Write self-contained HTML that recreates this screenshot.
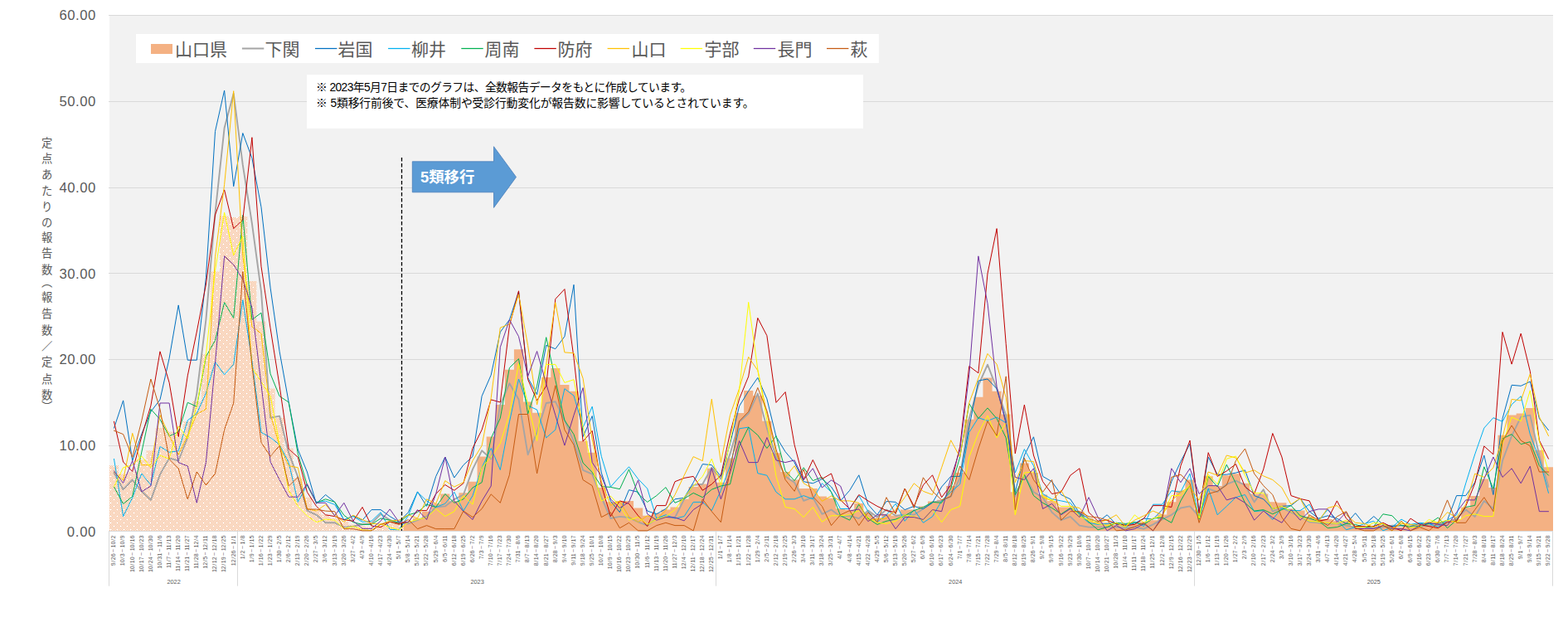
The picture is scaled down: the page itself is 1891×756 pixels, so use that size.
<!DOCTYPE html>
<html lang="ja"><head><meta charset="utf-8"><title>chart</title>
<style>html,body{margin:0;padding:0;background:#fff;}body{width:1891px;height:756px;overflow:hidden;font-family:"Liberation Sans",sans-serif;}svg{display:block;}text{font-family:"Liberation Sans",sans-serif;}</style></head><body>
<svg width="1891" height="756" viewBox="0 0 1891 756" role="img" aria-label="定点あたりの報告数（報告数／定点数） 山口県 週別推移">
<defs><pattern id="dd" x="0" y="0" width="8" height="8" patternUnits="userSpaceOnUse" shape-rendering="crispEdges">
<rect width="8" height="8" fill="#fff"/>
<path fill="#F4B183" d="M1 0h1v1h-1zM3 0h1v1h-1zM5 0h1v1h-1zM7 0h1v1h-1zM0 1h1v1h-1zM2 1h1v1h-1zM4 1h1v1h-1zM6 1h1v1h-1zM3 2h1v1h-1zM5 2h1v1h-1zM7 2h1v1h-1zM0 3h1v1h-1zM2 3h1v1h-1zM4 3h1v1h-1zM6 3h1v1h-1zM1 4h1v1h-1zM3 4h1v1h-1zM5 4h1v1h-1zM7 4h1v1h-1zM0 5h1v1h-1zM2 5h1v1h-1zM4 5h1v1h-1zM6 5h1v1h-1zM1 6h1v1h-1zM3 6h1v1h-1zM7 6h1v1h-1zM0 7h1v1h-1zM2 7h1v1h-1zM4 7h1v1h-1zM6 7h1v1h-1z"/>
</pattern></defs>
<rect width="1891" height="756" fill="#fff"/>
<rect x="132" y="18" width="1741" height="622" fill="#F2F2F2"/>
<path d="M131 18.5H1873M131 122.5H1873M131 226.5H1873M131 329.5H1873M131 433.5H1873M131 537.5H1873" stroke="#D9D9D9" stroke-width="1" fill="none" shape-rendering="crispEdges"/>
<path d="M132.00 640.00L132.00 561.19H143.09L143.09 571.46H154.18L154.18 568.76H165.27L165.27 554.46H176.36L176.36 543.26H187.45L187.45 516.10H198.54L198.54 520.45H209.62L209.62 521.28H220.71L220.71 508.32H231.80L231.80 483.65H242.89L242.89 427.26H253.98L253.98 327.43H265.07L265.07 260.46H276.16L276.16 262.12H287.25L287.25 261.08H298.34L298.34 339.04H309.43L309.43 387.55H320.52L320.52 468.41H331.61L331.61 503.66H342.69L342.69 540.46H353.78L353.78 576.43H364.87L364.87 599.66H375.96L375.96 613.55H387.05L387.05 620.80H398.14L398.14 624.95H409.23L409.23 629.10H420.32L420.32 632.41H431.41L431.41 634.59H442.50L442.50 635.63H453.59L453.59 633.97H464.68L464.68 631.38H475.76L475.76 630.34H486.85V640Z" fill="url(#dd)"/>
<path d="M486.85 640.00L486.85 629.30H497.94L497.94 624.95H509.03L509.03 616.66H520.12L520.12 607.33H531.21L531.21 595.51H542.30L542.30 604.22H553.39L553.39 594.37H564.48L564.48 580.68H575.57L575.57 550.41H586.66L586.66 526.47H597.75L597.75 488.11H608.83L608.83 445.81H619.92L619.92 421.14H631.01L631.01 484.59H642.10L642.10 497.85H653.19L653.19 454.94H664.28L664.28 443.95H675.37L675.37 464.06H686.46L686.46 471.83H697.55L697.55 531.65H708.64L708.64 545.85H719.73L719.73 588.04H730.82L730.82 605.25H741.90L741.90 603.91H752.99L752.99 603.91H764.08L764.08 612.51H775.17L775.17 621.84H786.26L786.26 618.73H797.35L797.35 614.58H808.44L808.44 611.47H819.53L819.53 601.83H830.62L830.62 587.01H841.71L841.71 583.48H852.80L852.80 564.82H863.89L863.89 581.72H874.97L874.97 552.38H886.06L886.06 498.06H897.15L897.15 471.00H908.24L908.24 477.23H919.33L919.33 507.81H930.42L930.42 546.16H941.51L941.51 568.97H952.60L952.60 578.51H963.69L963.69 589.08H974.78L974.78 589.08H985.87L985.87 598.62H996.96L996.96 600.80H1008.04L1008.04 613.13H1019.13L1019.13 614.79H1030.22L1030.22 607.12H1041.31L1041.31 618.42H1052.40L1052.40 624.43H1063.49L1063.49 619.77H1074.58L1074.58 621.84H1085.67L1085.67 614.58H1096.76L1096.76 614.58H1107.85L1107.85 610.44H1118.94L1118.94 604.53H1130.03L1130.03 602.87H1141.11L1141.11 585.97H1152.20L1152.20 570.01H1163.29L1163.29 505.73H1174.38L1174.38 478.78H1185.47L1185.47 455.56H1196.56L1196.56 471.83H1207.65L1207.65 499.51H1218.74L1218.74 593.33H1229.83L1229.83 558.60H1240.92L1240.92 570.01H1252.01L1252.01 596.55H1263.10L1263.10 603.91H1274.18L1274.18 611.47H1285.27L1285.27 611.47H1296.36L1296.36 616.66H1307.45L1307.45 625.05H1318.54L1318.54 629.30H1329.63L1329.63 630.34H1340.72L1340.72 632.41H1351.81L1351.81 632.41H1362.90L1362.90 631.38H1373.99L1373.99 629.30H1385.08L1385.08 627.23H1396.17L1396.17 620.39H1407.25L1407.25 605.36H1418.34L1418.34 591.67H1429.43L1429.43 578.51H1440.52L1440.52 614.58H1451.61L1451.61 574.36H1462.70L1462.70 585.97H1473.79L1473.79 573.22H1484.88L1484.88 571.15H1495.97L1495.97 582.76H1507.06L1507.06 595.51H1518.15L1518.15 595.51H1529.24L1529.24 605.36H1540.32L1540.32 606.29H1551.41L1551.41 613.55H1562.50L1562.50 615.62H1573.59L1573.59 622.88H1584.68L1584.68 626.09H1595.77L1595.77 626.09H1606.86L1606.86 628.27H1617.95L1617.95 628.27H1629.04L1629.04 634.59H1640.13L1640.13 634.59H1651.22L1651.22 635.63H1662.31L1662.31 633.55H1673.39L1673.39 634.59H1684.48L1684.48 635.63H1695.57L1695.57 633.55H1706.66L1706.66 633.24H1717.75L1717.75 631.38H1728.84L1728.84 629.72H1739.93L1739.93 628.27H1751.02L1751.02 626.09H1762.11L1762.11 611.78H1773.20L1773.20 598.00H1784.29L1784.29 577.47H1795.38L1795.38 588.04H1806.46L1806.46 524.70H1817.55L1817.55 500.55H1828.64L1828.64 498.48H1839.73L1839.73 491.95H1850.82L1850.82 542.64H1861.91L1861.91 563.16H1873.00V640Z" fill="#F4B183"/>
<path d="M131 640.5H1873" stroke="#D9D9D9" stroke-width="1" fill="none"/>
<path d="M131.5 640V706.6M286.5 640V706.6M863.5 640V706.6M1440.5 640V706.6M1872.5 640V706.6" stroke="#D9D9D9" stroke-width="1" fill="none"/>
<polyline points="137.5,570.0 148.6,590.2 159.7,578.5 170.8,592.3 181.9,602.9 193.0,572.1 204.1,552.4 215.2,555.5 226.3,527.5 237.3,474.6 248.4,385.5 259.5,256.9 270.6,154.3 281.7,112.8 292.8,198.9 303.9,269.4 315.0,351.3 326.1,503.7 337.1,501.6 348.2,546.2 359.3,575.2 370.4,615.6 381.5,620.8 392.6,630.3 403.7,630.3 414.8,635.6 425.9,634.6 437.0,632.2 448.0,631.2 459.1,619.8 470.2,627.0 481.3,631.2 492.4,631.4 503.5,627.2 514.6,622.6 525.7,611.5 536.8,610.4 547.8,602.1 558.9,596.5 570.0,565.9 581.1,543.3 592.2,553.4 603.3,488.1 614.4,462.2 625.5,481.4 636.6,548.2 647.6,521.3 658.7,486.0 669.8,484.2 680.9,506.8 692.0,532.2 703.1,566.9 714.2,571.6 725.3,599.7 736.4,625.0 747.4,622.9 758.5,624.0 769.6,629.3 780.7,633.6 791.8,625.1 802.9,622.9 814.0,624.0 825.1,601.8 836.2,584.9 847.3,583.8 858.3,563.8 869.4,577.5 880.5,547.2 891.6,508.8 902.7,498.5 913.8,474.6 924.9,516.1 936.0,551.0 947.1,574.4 958.1,581.7 969.2,603.9 980.3,599.7 991.4,619.8 1002.5,614.6 1013.6,622.9 1024.7,621.8 1035.8,625.1 1046.9,615.6 1057.9,623.4 1069.0,614.6 1080.1,621.8 1091.2,620.8 1102.3,620.8 1113.4,613.5 1124.5,605.4 1135.6,603.9 1146.7,598.6 1157.7,576.4 1168.8,504.7 1179.9,464.5 1191.0,439.7 1202.1,468.7 1213.2,500.6 1224.3,598.6 1235.4,573.2 1246.5,593.3 1257.6,599.7 1268.6,617.7 1279.7,627.2 1290.8,622.9 1301.9,633.6 1313.0,635.6 1324.1,635.6 1335.2,635.6 1346.3,635.6 1357.4,636.7 1368.4,635.6 1379.5,637.7 1390.6,632.4 1401.7,626.1 1412.8,620.8 1423.9,612.5 1435.0,610.4 1446.1,622.9 1457.2,589.1 1468.2,593.3 1479.3,583.8 1490.4,579.6 1501.5,584.9 1512.6,605.4 1523.7,590.2 1534.8,616.7 1545.9,612.5 1557.0,617.7 1568.0,622.9 1579.1,629.3 1590.2,630.3 1601.3,631.4 1612.4,631.4 1623.5,633.6 1634.6,635.6 1645.7,635.6 1656.8,636.7 1667.9,635.6 1678.9,633.6 1690.0,633.6 1701.1,634.6 1712.2,634.6 1723.3,633.6 1734.4,633.6 1745.5,630.3 1756.6,625.1 1767.7,614.6 1778.7,622.9 1789.8,603.9 1800.9,613.5 1812.0,555.5 1823.1,525.7 1834.2,502.6 1845.3,500.6 1856.4,549.3 1867.5,587.0" fill="none" stroke="#A5A5A5" stroke-width="1.90" stroke-linejoin="round" stroke-linecap="round"/>
<polyline points="137.5,516.1 148.6,482.9 159.7,555.5 170.8,523.4 181.9,496.4 193.0,481.9 204.1,432.1 215.2,367.9 226.3,434.2 237.3,434.2 248.4,334.7 259.5,158.4 270.6,109.0 281.7,224.8 292.8,160.5 303.9,190.6 315.0,249.7 326.1,347.1 337.1,423.8 348.2,485.0 359.3,542.0 370.4,569.0 381.5,607.3 392.6,596.5 403.7,605.3 414.8,627.0 425.9,621.8 437.0,627.2 448.0,614.6 459.1,614.6 470.2,622.6 481.3,629.3 492.4,617.7 503.5,592.9 514.6,610.4 525.7,574.4 536.8,551.0 547.8,576.0 558.9,560.7 570.0,550.4 581.1,477.7 592.2,452.2 603.3,400.4 614.4,385.5 625.5,351.8 636.6,455.4 647.6,475.7 658.7,416.3 669.8,420.7 680.9,405.7 692.0,343.3 703.1,526.5 714.2,501.6 725.3,570.0 736.4,604.2 747.4,617.7 758.5,590.7 769.6,593.3 780.7,616.1 791.8,619.8 802.9,613.5 814.0,601.8 825.1,600.3 836.2,581.7 847.3,559.6 858.3,560.7 869.4,574.4 880.5,534.8 891.6,489.7 902.7,471.5 913.8,455.4 924.9,480.9 936.0,526.5 947.1,544.7 958.1,557.6 969.2,580.7 980.3,582.8 991.4,577.5 1002.5,587.0 1013.6,603.9 1024.7,591.3 1035.8,572.8 1046.9,608.2 1057.9,620.8 1069.0,604.5 1080.1,605.4 1091.2,614.6 1102.3,610.4 1113.4,613.5 1124.5,606.3 1135.6,587.0 1146.7,574.4 1157.7,574.4 1168.8,515.1 1179.9,459.1 1191.0,457.0 1202.1,468.7 1213.2,507.8 1224.3,593.3 1235.4,549.0 1246.5,526.8 1257.6,574.4 1268.6,580.7 1279.7,596.5 1290.8,601.8 1301.9,618.7 1313.0,625.1 1324.1,629.3 1335.2,620.8 1346.3,632.4 1357.4,632.4 1368.4,630.9 1379.5,625.1 1390.6,626.1 1401.7,614.6 1412.8,580.7 1423.9,556.5 1435.0,535.2 1446.1,616.7 1457.2,551.0 1468.2,572.2 1479.3,572.2 1490.4,570.1 1501.5,566.9 1512.6,597.6 1523.7,601.8 1534.8,613.5 1545.9,610.4 1557.0,609.6 1568.0,600.8 1579.1,616.7 1590.2,625.1 1601.3,621.8 1612.4,625.1 1623.5,631.4 1634.6,618.7 1645.7,632.4 1656.8,622.6 1667.9,632.4 1678.9,634.6 1690.0,633.6 1701.1,634.6 1712.2,631.4 1723.3,631.4 1734.4,631.4 1745.5,627.2 1756.6,597.6 1767.7,597.6 1778.7,581.7 1789.8,549.0 1800.9,596.5 1812.0,504.7 1823.1,464.3 1834.2,465.3 1845.3,460.1 1856.4,504.7 1867.5,518.7" fill="none" stroke="#0070C0" stroke-width="1.00" stroke-linejoin="round" stroke-linecap="round"/>
<polyline points="137.5,553.4 148.6,622.6 159.7,600.1 170.8,571.0 181.9,584.9 193.0,538.4 204.1,545.3 215.2,543.7 226.3,506.8 237.3,498.5 248.4,474.1 259.5,436.3 270.6,451.8 281.7,439.4 292.8,361.6 303.9,435.2 315.0,521.3 326.1,527.5 337.1,536.3 348.2,557.6 359.3,605.3 370.4,584.5 381.5,605.3 392.6,604.2 403.7,608.4 414.8,626.7 425.9,622.6 437.0,629.3 448.0,628.3 459.1,617.7 470.2,638.4 481.3,638.8 492.4,621.8 503.5,593.3 514.6,603.9 525.7,611.5 536.8,607.3 547.8,593.3 558.9,616.1 570.0,597.6 581.1,563.8 592.2,540.5 603.3,566.5 614.4,508.8 625.5,457.0 636.6,489.1 647.6,494.0 658.7,527.9 669.8,518.2 680.9,468.7 692.0,477.1 703.1,515.2 714.2,490.2 725.3,550.3 736.4,587.0 747.4,574.7 758.5,562.8 769.6,577.5 780.7,589.1 791.8,625.1 802.9,620.8 814.0,625.1 825.1,622.6 836.2,605.4 847.3,605.4 858.3,615.6 869.4,591.3 880.5,561.7 891.6,516.8 902.7,515.1 913.8,570.7 924.9,573.2 936.0,593.3 947.1,601.8 958.1,601.8 969.2,597.6 980.3,601.8 991.4,582.8 1002.5,593.3 1013.6,613.5 1024.7,613.5 1035.8,597.6 1046.9,616.7 1057.9,629.3 1069.0,620.8 1080.1,607.3 1091.2,628.3 1102.3,614.6 1113.4,630.3 1124.5,622.9 1135.6,603.9 1146.7,593.3 1157.7,583.8 1168.8,521.3 1179.9,503.7 1191.0,507.4 1202.1,503.1 1213.2,509.9 1224.3,570.0 1235.4,541.6 1246.5,561.7 1257.6,595.5 1268.6,601.8 1279.7,603.9 1290.8,606.3 1301.9,620.8 1313.0,630.3 1324.1,632.4 1335.2,631.4 1346.3,630.3 1357.4,635.6 1368.4,629.3 1379.5,634.6 1390.6,608.2 1401.7,608.2 1412.8,591.7 1423.9,593.3 1435.0,571.1 1446.1,625.1 1457.2,589.1 1468.2,620.8 1479.3,610.4 1490.4,599.7 1501.5,596.5 1512.6,616.7 1523.7,615.6 1534.8,626.5 1545.9,612.5 1557.0,615.6 1568.0,615.6 1579.1,608.2 1590.2,627.2 1601.3,614.6 1612.4,627.2 1623.5,638.8 1634.6,635.6 1645.7,631.4 1656.8,628.3 1667.9,639.9 1678.9,635.6 1690.0,626.1 1701.1,632.4 1712.2,630.3 1723.3,631.4 1734.4,635.6 1745.5,627.2 1756.6,620.8 1767.7,582.8 1778.7,547.9 1789.8,516.1 1800.9,503.7 1812.0,508.3 1823.1,487.7 1834.2,477.7 1845.3,523.7 1856.4,553.4 1867.5,594.4" fill="none" stroke="#00B0F0" stroke-width="1.00" stroke-linejoin="round" stroke-linecap="round"/>
<polyline points="137.5,587.0 148.6,607.5 159.7,598.6 170.8,545.1 181.9,493.3 193.0,505.7 204.1,525.9 215.2,520.7 226.3,485.3 237.3,490.2 248.4,430.1 259.5,410.4 270.6,364.7 281.7,383.4 292.8,259.5 303.9,385.5 315.0,377.2 326.1,450.8 337.1,477.7 348.2,485.0 359.3,547.2 370.4,584.9 381.5,606.3 392.6,601.8 403.7,605.3 414.8,621.2 425.9,629.7 437.0,632.4 448.0,632.4 459.1,625.0 470.2,627.2 481.3,630.3 492.4,620.8 503.5,617.7 514.6,608.2 525.7,611.5 536.8,595.5 547.8,606.3 558.9,601.8 570.0,588.0 581.1,581.7 592.2,528.5 603.3,504.2 614.4,443.5 625.5,432.6 636.6,499.0 647.6,465.3 658.7,406.7 669.8,458.3 680.9,506.8 692.0,523.7 703.1,558.1 714.2,569.5 725.3,586.6 736.4,587.4 747.4,589.7 758.5,565.9 769.6,595.5 780.7,605.4 791.8,597.6 802.9,587.6 814.0,606.3 825.1,601.4 836.2,594.4 847.3,599.7 858.3,590.2 869.4,586.0 880.5,583.8 891.6,537.9 902.7,515.1 913.8,524.6 924.9,540.5 936.0,525.7 947.1,567.9 958.1,579.6 969.2,563.8 980.3,579.6 991.4,575.4 1002.5,593.3 1013.6,621.8 1024.7,627.2 1035.8,608.2 1046.9,625.1 1057.9,632.4 1069.0,628.3 1080.1,626.1 1091.2,621.8 1102.3,615.6 1113.4,611.5 1124.5,605.4 1135.6,606.3 1146.7,589.1 1157.7,551.0 1168.8,486.7 1179.9,504.7 1191.0,491.9 1202.1,504.7 1213.2,527.9 1224.3,596.5 1235.4,572.2 1246.5,597.6 1257.6,606.3 1268.6,612.5 1279.7,619.8 1290.8,612.5 1301.9,618.7 1313.0,629.3 1324.1,638.8 1335.2,635.6 1346.3,630.3 1357.4,631.4 1368.4,629.8 1379.5,632.4 1390.6,625.1 1401.7,624.0 1412.8,630.3 1423.9,603.9 1435.0,584.9 1446.1,626.1 1457.2,574.4 1468.2,587.0 1479.3,560.2 1490.4,582.8 1501.5,606.3 1512.6,616.1 1523.7,614.6 1534.8,619.8 1545.9,614.6 1557.0,609.6 1568.0,621.8 1579.1,625.1 1590.2,628.3 1601.3,636.7 1612.4,635.6 1623.5,631.4 1634.6,632.4 1645.7,635.6 1656.8,634.6 1667.9,619.8 1678.9,621.8 1690.0,633.6 1701.1,635.6 1712.2,634.6 1723.3,631.4 1734.4,624.0 1745.5,636.7 1756.6,627.2 1767.7,611.5 1778.7,609.4 1789.8,562.8 1800.9,589.1 1812.0,528.9 1823.1,523.6 1834.2,535.6 1845.3,532.7 1856.4,561.7 1867.5,573.2" fill="none" stroke="#00B050" stroke-width="1.00" stroke-linejoin="round" stroke-linecap="round"/>
<polyline points="137.5,508.3 148.6,557.0 159.7,568.5 170.8,526.5 181.9,489.1 193.0,423.8 204.1,461.2 215.2,526.5 226.3,452.9 237.3,400.0 248.4,343.0 259.5,259.0 270.6,228.9 281.7,275.6 292.8,265.2 303.9,165.7 315.0,321.2 326.1,395.8 337.1,465.3 348.2,541.4 359.3,551.3 370.4,593.3 381.5,610.4 392.6,620.8 403.7,622.6 414.8,626.7 425.9,628.3 437.0,611.5 448.0,634.0 459.1,635.6 470.2,629.3 481.3,631.4 492.4,629.3 503.5,615.6 514.6,615.6 525.7,595.5 536.8,584.5 547.8,591.3 558.9,582.8 570.0,540.5 581.1,518.2 592.2,481.9 603.3,485.0 614.4,392.7 625.5,350.8 636.6,457.5 647.6,482.9 658.7,465.3 669.8,360.6 680.9,348.6 692.0,431.4 703.1,532.2 714.2,519.4 725.3,584.9 736.4,622.6 747.4,603.9 758.5,607.3 769.6,621.8 780.7,634.6 791.8,609.6 802.9,609.6 814.0,580.7 825.1,576.4 836.2,574.4 847.3,591.3 858.3,583.8 869.4,573.2 880.5,522.3 891.6,480.9 902.7,453.9 913.8,383.4 924.9,404.7 936.0,485.4 947.1,472.6 958.1,536.3 969.2,578.5 980.3,554.5 991.4,577.5 1002.5,571.0 1013.6,602.9 1024.7,613.5 1035.8,596.5 1046.9,603.9 1057.9,610.4 1069.0,615.6 1080.1,617.7 1091.2,589.1 1102.3,610.4 1113.4,584.9 1124.5,572.8 1135.6,599.7 1146.7,584.9 1157.7,538.4 1168.8,441.5 1179.9,449.8 1191.0,329.9 1202.1,275.6 1213.2,414.5 1224.3,546.9 1235.4,488.1 1246.5,549.0 1257.6,580.7 1268.6,595.5 1279.7,593.3 1290.8,573.2 1301.9,564.8 1313.0,617.7 1324.1,628.3 1335.2,627.2 1346.3,631.4 1357.4,633.6 1368.4,632.4 1379.5,625.1 1390.6,609.6 1401.7,609.6 1412.8,611.5 1423.9,561.7 1435.0,531.0 1446.1,618.7 1457.2,545.7 1468.2,574.4 1479.3,567.9 1490.4,559.6 1501.5,587.0 1512.6,595.5 1523.7,565.9 1534.8,522.5 1545.9,551.0 1557.0,597.6 1568.0,601.4 1579.1,603.9 1590.2,628.3 1601.3,626.1 1612.4,603.9 1623.5,625.1 1634.6,634.6 1645.7,634.6 1656.8,634.6 1667.9,630.3 1678.9,635.6 1690.0,639.9 1701.1,625.1 1712.2,632.4 1723.3,634.6 1734.4,636.7 1745.5,629.3 1756.6,628.3 1767.7,610.4 1778.7,582.8 1789.8,537.9 1800.9,547.9 1812.0,400.4 1823.1,439.1 1834.2,402.1 1845.3,447.7 1856.4,531.0 1867.5,553.2" fill="none" stroke="#C00000" stroke-width="1.00" stroke-linejoin="round" stroke-linecap="round"/>
<polyline points="137.5,569.0 148.6,579.3 159.7,522.3 170.8,560.7 181.9,560.7 193.0,500.6 204.1,524.9 215.2,548.2 226.3,524.9 237.3,499.5 248.4,493.3 259.5,309.8 270.6,222.7 281.7,109.7 292.8,308.8 303.9,393.8 315.0,402.1 326.1,499.5 337.1,537.9 348.2,561.7 359.3,563.8 370.4,613.5 381.5,616.1 392.6,608.4 403.7,621.8 414.8,629.3 425.9,621.2 437.0,626.5 448.0,631.2 459.1,632.2 470.2,628.1 481.3,627.2 492.4,620.8 503.5,625.0 514.6,601.8 525.7,607.3 536.8,579.6 547.8,587.0 558.9,581.7 570.0,555.5 581.1,537.4 592.2,479.8 603.3,395.1 614.4,390.9 625.5,354.9 636.6,416.6 647.6,488.1 658.7,439.4 669.8,364.7 680.9,424.9 692.0,425.7 703.1,456.2 714.2,530.0 725.3,580.7 736.4,609.4 747.4,604.2 758.5,622.9 769.6,629.5 780.7,621.8 791.8,626.1 802.9,615.6 814.0,596.5 825.1,573.2 836.2,550.6 847.3,555.7 858.3,481.2 869.4,557.6 880.5,500.6 891.6,468.4 902.7,430.4 913.8,446.6 924.9,498.5 936.0,546.2 947.1,575.4 958.1,561.7 969.2,582.8 980.3,589.1 991.4,604.3 1002.5,598.0 1013.6,603.9 1024.7,603.9 1035.8,606.3 1046.9,627.2 1057.9,626.0 1069.0,625.1 1080.1,614.6 1091.2,599.7 1102.3,582.8 1113.4,592.3 1124.5,596.5 1135.6,563.8 1146.7,530.8 1157.7,551.0 1168.8,485.6 1179.9,456.0 1191.0,426.4 1202.1,439.1 1213.2,479.3 1224.3,581.7 1235.4,555.5 1246.5,556.5 1257.6,599.7 1268.6,603.9 1279.7,591.3 1290.8,610.4 1301.9,612.5 1313.0,625.1 1324.1,629.3 1335.2,627.2 1346.3,620.8 1357.4,634.6 1368.4,627.2 1379.5,621.8 1390.6,616.1 1401.7,620.8 1412.8,603.9 1423.9,593.3 1435.0,587.0 1446.1,603.2 1457.2,569.0 1468.2,573.2 1479.3,549.0 1490.4,552.1 1501.5,570.1 1512.6,566.9 1523.7,573.9 1534.8,578.5 1545.9,588.0 1557.0,608.2 1568.0,600.8 1579.1,622.9 1590.2,628.3 1601.3,612.5 1612.4,609.6 1623.5,620.8 1634.6,630.3 1645.7,631.4 1656.8,635.6 1667.9,631.4 1678.9,637.7 1690.0,631.4 1701.1,632.4 1712.2,633.6 1723.3,629.3 1734.4,630.3 1745.5,617.7 1756.6,624.0 1767.7,608.2 1778.7,571.1 1789.8,575.4 1800.9,563.8 1812.0,527.9 1823.1,481.4 1834.2,483.0 1845.3,450.8 1856.4,502.6 1867.5,525.6" fill="none" stroke="#FFC000" stroke-width="1.00" stroke-linejoin="round" stroke-linecap="round"/>
<polyline points="137.5,587.0 148.6,563.8 159.7,560.7 170.8,550.0 181.9,563.8 193.0,549.0 204.1,553.4 215.2,514.0 226.3,528.9 237.3,489.1 248.4,428.0 259.5,326.4 270.6,256.2 281.7,307.7 292.8,284.9 303.9,443.5 315.0,460.1 326.1,477.7 337.1,535.8 348.2,591.3 359.3,610.4 370.4,621.8 381.5,629.7 392.6,626.0 403.7,627.2 414.8,637.7 425.9,634.6 437.0,638.8 448.0,639.5 459.1,631.6 470.2,635.9 481.3,638.8 492.4,629.3 503.5,626.5 514.6,623.9 525.7,613.5 536.8,622.6 547.8,616.7 558.9,597.6 570.0,608.2 581.1,563.8 592.2,551.3 603.3,534.8 614.4,499.5 625.5,438.4 636.6,487.1 647.6,531.6 658.7,439.4 669.8,439.4 680.9,461.4 692.0,457.7 703.1,515.1 714.2,563.8 725.3,604.2 736.4,598.0 747.4,610.4 758.5,627.2 769.6,623.4 780.7,632.4 791.8,626.1 802.9,622.9 814.0,614.6 825.1,599.7 836.2,586.0 847.3,574.4 858.3,553.2 869.4,584.9 880.5,532.1 891.6,470.5 902.7,364.4 913.8,445.2 924.9,506.8 936.0,574.4 947.1,611.5 958.1,613.5 969.2,623.6 980.3,611.5 991.4,629.3 1002.5,621.8 1013.6,621.8 1024.7,620.8 1035.8,615.6 1046.9,624.0 1057.9,630.3 1069.0,631.4 1080.1,628.3 1091.2,620.8 1102.3,622.9 1113.4,627.2 1124.5,614.6 1135.6,629.7 1146.7,614.6 1157.7,610.4 1168.8,551.0 1179.9,522.3 1191.0,501.1 1202.1,527.8 1213.2,509.9 1224.3,620.8 1235.4,570.0 1246.5,569.0 1257.6,598.6 1268.6,602.9 1279.7,610.4 1290.8,610.4 1301.9,622.9 1313.0,627.2 1324.1,631.4 1335.2,633.6 1346.3,630.3 1357.4,635.6 1368.4,620.8 1379.5,630.3 1390.6,625.1 1401.7,621.8 1412.8,597.6 1423.9,597.6 1435.0,584.9 1446.1,625.1 1457.2,572.2 1468.2,583.8 1479.3,553.2 1490.4,550.0 1501.5,573.2 1512.6,594.4 1523.7,594.4 1534.8,613.5 1545.9,610.4 1557.0,616.7 1568.0,622.9 1579.1,628.3 1590.2,629.3 1601.3,630.3 1612.4,631.4 1623.5,627.2 1634.6,635.6 1645.7,635.6 1656.8,630.3 1667.9,631.4 1678.9,639.9 1690.0,629.3 1701.1,635.6 1712.2,635.6 1723.3,626.5 1734.4,630.3 1745.5,627.2 1756.6,629.7 1767.7,621.8 1778.7,619.8 1789.8,622.6 1800.9,622.6 1812.0,535.2 1823.1,503.1 1834.2,507.8 1845.3,470.8 1856.4,532.2 1867.5,567.9" fill="none" stroke="#FFFF00" stroke-width="1.00" stroke-linejoin="round" stroke-linecap="round"/>
<polyline points="137.5,567.9 148.6,582.4 159.7,555.5 170.8,592.8 181.9,586.0 193.0,486.0 204.1,486.0 215.2,557.6 226.3,562.0 237.3,606.3 248.4,557.6 259.5,438.4 270.6,308.8 281.7,319.1 292.8,336.8 303.9,371.0 315.0,463.5 326.1,556.9 337.1,578.5 348.2,599.2 359.3,599.2 370.4,583.5 381.5,606.3 392.6,606.3 403.7,621.8 414.8,606.3 425.9,628.1 437.0,637.4 448.0,637.4 459.1,628.3 470.2,613.9 481.3,629.7 492.4,629.7 503.5,614.6 514.6,626.5 525.7,595.5 536.8,551.0 547.8,603.9 558.9,616.7 570.0,626.5 581.1,604.2 592.2,586.0 603.3,418.7 614.4,385.5 625.5,405.7 636.6,453.9 647.6,423.5 658.7,462.7 669.8,500.6 680.9,537.1 692.0,500.6 703.1,467.6 714.2,557.6 725.3,574.2 736.4,601.8 747.4,612.5 758.5,605.4 769.6,578.9 780.7,619.8 791.8,627.2 802.9,623.6 814.0,624.0 825.1,627.9 836.2,614.6 847.3,607.3 858.3,564.4 869.4,601.8 880.5,570.0 891.6,531.6 902.7,557.6 913.8,557.6 924.9,527.5 936.0,554.9 947.1,557.6 958.1,554.9 969.2,578.5 980.3,564.8 991.4,588.0 1002.5,578.9 1013.6,586.0 1024.7,616.1 1035.8,613.9 1046.9,628.7 1057.9,620.8 1069.0,620.8 1080.1,637.7 1091.2,623.6 1102.3,623.6 1113.4,626.5 1124.5,614.6 1135.6,616.7 1146.7,576.4 1157.7,542.6 1168.8,451.8 1179.9,308.8 1191.0,365.8 1202.1,466.3 1213.2,510.9 1224.3,575.4 1235.4,578.5 1246.5,564.8 1257.6,613.5 1268.6,607.3 1279.7,620.8 1290.8,613.5 1301.9,623.6 1313.0,599.7 1324.1,623.6 1335.2,639.9 1346.3,633.6 1357.4,639.9 1368.4,637.7 1379.5,631.4 1390.6,639.9 1401.7,622.9 1412.8,564.8 1423.9,581.7 1435.0,564.8 1446.1,595.5 1457.2,585.6 1468.2,585.6 1479.3,602.9 1490.4,599.7 1501.5,606.3 1512.6,627.2 1523.7,616.1 1534.8,624.0 1545.9,630.3 1557.0,614.6 1568.0,627.2 1579.1,616.7 1590.2,613.9 1601.3,613.9 1612.4,629.3 1623.5,617.7 1634.6,637.4 1645.7,637.4 1656.8,637.4 1667.9,633.6 1678.9,637.7 1690.0,637.7 1701.1,639.9 1712.2,633.6 1723.3,630.3 1734.4,632.4 1745.5,633.6 1756.6,617.7 1767.7,602.9 1778.7,602.9 1789.8,577.5 1800.9,551.0 1812.0,575.4 1823.1,564.8 1834.2,582.8 1845.3,562.2 1856.4,616.7 1867.5,616.7" fill="none" stroke="#7030A0" stroke-width="1.00" stroke-linejoin="round" stroke-linecap="round"/>
<polyline points="137.5,519.2 148.6,523.6 159.7,551.3 170.8,507.3 181.9,457.0 193.0,493.3 204.1,553.4 215.2,564.8 226.3,602.1 237.3,569.0 248.4,584.9 259.5,571.0 270.6,518.2 281.7,486.0 292.8,327.4 303.9,440.4 315.0,533.4 326.1,550.3 337.1,537.4 348.2,586.0 359.3,575.2 370.4,614.1 381.5,614.1 392.6,616.1 403.7,616.7 414.8,637.7 425.9,637.7 437.0,639.9 448.0,639.9 459.1,632.4 470.2,629.3 481.3,632.4 492.4,626.5 503.5,637.7 514.6,633.6 525.7,637.7 536.8,637.7 547.8,637.7 558.9,616.1 570.0,623.6 581.1,613.5 592.2,595.9 603.3,606.3 614.4,572.6 625.5,499.5 636.6,499.5 647.6,571.0 658.7,515.1 669.8,464.8 680.9,518.2 692.0,536.3 703.1,578.6 714.2,585.6 725.3,623.6 736.4,617.7 747.4,636.7 758.5,630.3 769.6,639.9 780.7,639.9 791.8,633.6 802.9,630.3 814.0,633.6 825.1,633.6 836.2,639.9 847.3,601.8 858.3,616.7 869.4,629.7 880.5,565.9 891.6,507.8 902.7,496.4 913.8,467.4 924.9,495.4 936.0,542.0 947.1,578.5 958.1,592.3 969.2,565.9 980.3,598.6 991.4,610.4 1002.5,633.6 1013.6,620.8 1024.7,615.6 1035.8,633.6 1046.9,617.7 1057.9,629.5 1069.0,599.7 1080.1,619.8 1091.2,589.1 1102.3,612.5 1113.4,575.8 1124.5,592.3 1135.6,602.9 1146.7,598.6 1157.7,562.0 1168.8,578.5 1179.9,541.0 1191.0,507.8 1202.1,525.4 1213.2,453.9 1224.3,614.6 1235.4,552.4 1246.5,578.5 1257.6,593.3 1268.6,578.5 1279.7,627.2 1290.8,616.7 1301.9,616.7 1313.0,622.9 1324.1,624.0 1335.2,627.2 1346.3,639.9 1357.4,638.8 1368.4,635.1 1379.5,630.3 1390.6,639.9 1401.7,625.1 1412.8,575.4 1423.9,572.2 1435.0,582.8 1446.1,630.3 1457.2,595.5 1468.2,592.3 1479.3,584.9 1490.4,555.5 1501.5,541.0 1512.6,571.1 1523.7,585.6 1534.8,596.5 1545.9,624.0 1557.0,637.4 1568.0,639.9 1579.1,620.8 1590.2,627.2 1601.3,633.6 1612.4,622.9 1623.5,616.7 1634.6,636.7 1645.7,639.9 1656.8,639.9 1667.9,633.6 1678.9,639.9 1690.0,628.3 1701.1,639.9 1712.2,635.6 1723.3,639.9 1734.4,630.3 1745.5,602.9 1756.6,630.3 1767.7,630.3 1778.7,614.6 1789.8,599.7 1800.9,616.7 1812.0,532.1 1823.1,513.0 1834.2,531.1 1845.3,537.7 1856.4,569.0 1867.5,569.0" fill="none" stroke="#C55A11" stroke-width="1.00" stroke-linejoin="round" stroke-linecap="round"/>
<path d="M484.5 190V640" stroke="#000" stroke-width="1.3" stroke-dasharray="4.4 2.6" fill="none"/>
<text x="115.4" y="647.0" font-size="16.7" fill="#595959" text-anchor="end" textLength="34.6" lengthAdjust="spacing">0.00</text>
<text x="115.4" y="543.2" font-size="16.7" fill="#595959" text-anchor="end" textLength="44.0" lengthAdjust="spacing">10.00</text>
<text x="115.4" y="439.3" font-size="16.7" fill="#595959" text-anchor="end" textLength="44.0" lengthAdjust="spacing">20.00</text>
<text x="115.4" y="335.5" font-size="16.7" fill="#595959" text-anchor="end" textLength="44.0" lengthAdjust="spacing">30.00</text>
<text x="115.4" y="231.7" font-size="16.7" fill="#595959" text-anchor="end" textLength="44.0" lengthAdjust="spacing">40.00</text>
<text x="115.4" y="127.9" font-size="16.7" fill="#595959" text-anchor="end" textLength="44.0" lengthAdjust="spacing">50.00</text>
<text x="115.4" y="24.0" font-size="16.7" fill="#595959" text-anchor="end" textLength="44.0" lengthAdjust="spacing">60.00</text>
<g font-size="7.1" fill="#595959" text-anchor="end"><text transform="translate(139.3,645.6) rotate(-90)">9<tspan dx=".5">/</tspan><tspan dx=".5">26</tspan><tspan dx="1.4">~</tspan><tspan dx="1.4">10</tspan><tspan dx=".5">/</tspan><tspan dx=".5">2</tspan></text><text transform="translate(150.4,645.6) rotate(-90)">10<tspan dx=".5">/</tspan><tspan dx=".5">3</tspan><tspan dx="1.4">~</tspan><tspan dx="1.4">10</tspan><tspan dx=".5">/</tspan><tspan dx=".5">9</tspan></text><text transform="translate(161.5,645.6) rotate(-90)">10<tspan dx=".5">/</tspan><tspan dx=".5">10</tspan><tspan dx="1.4">~</tspan><tspan dx="1.4">10</tspan><tspan dx=".5">/</tspan><tspan dx=".5">16</tspan></text><text transform="translate(172.6,645.6) rotate(-90)">10<tspan dx=".5">/</tspan><tspan dx=".5">17</tspan><tspan dx="1.4">~</tspan><tspan dx="1.4">10</tspan><tspan dx=".5">/</tspan><tspan dx=".5">23</tspan></text><text transform="translate(183.7,645.6) rotate(-90)">10<tspan dx=".5">/</tspan><tspan dx=".5">24</tspan><tspan dx="1.4">~</tspan><tspan dx="1.4">10</tspan><tspan dx=".5">/</tspan><tspan dx=".5">30</tspan></text><text transform="translate(194.8,645.6) rotate(-90)">10<tspan dx=".5">/</tspan><tspan dx=".5">31</tspan><tspan dx="1.4">~</tspan><tspan dx="1.4">11</tspan><tspan dx=".5">/</tspan><tspan dx=".5">6</tspan></text><text transform="translate(205.9,645.6) rotate(-90)">11<tspan dx=".5">/</tspan><tspan dx=".5">7</tspan><tspan dx="1.4">~</tspan><tspan dx="1.4">11</tspan><tspan dx=".5">/</tspan><tspan dx=".5">13</tspan></text><text transform="translate(217.0,645.6) rotate(-90)">11<tspan dx=".5">/</tspan><tspan dx=".5">14</tspan><tspan dx="1.4">~</tspan><tspan dx="1.4">11</tspan><tspan dx=".5">/</tspan><tspan dx=".5">20</tspan></text><text transform="translate(228.1,645.6) rotate(-90)">11<tspan dx=".5">/</tspan><tspan dx=".5">21</tspan><tspan dx="1.4">~</tspan><tspan dx="1.4">11</tspan><tspan dx=".5">/</tspan><tspan dx=".5">27</tspan></text><text transform="translate(239.1,645.6) rotate(-90)">11<tspan dx=".5">/</tspan><tspan dx=".5">28</tspan><tspan dx="1.4">~</tspan><tspan dx="1.4">12</tspan><tspan dx=".5">/</tspan><tspan dx=".5">4</tspan></text><text transform="translate(250.2,645.6) rotate(-90)">12<tspan dx=".5">/</tspan><tspan dx=".5">5</tspan><tspan dx="1.4">~</tspan><tspan dx="1.4">12</tspan><tspan dx=".5">/</tspan><tspan dx=".5">11</tspan></text><text transform="translate(261.3,645.6) rotate(-90)">12<tspan dx=".5">/</tspan><tspan dx=".5">12</tspan><tspan dx="1.4">~</tspan><tspan dx="1.4">12</tspan><tspan dx=".5">/</tspan><tspan dx=".5">18</tspan></text><text transform="translate(272.4,645.6) rotate(-90)">12<tspan dx=".5">/</tspan><tspan dx=".5">19</tspan><tspan dx="1.4">~</tspan><tspan dx="1.4">12</tspan><tspan dx=".5">/</tspan><tspan dx=".5">25</tspan></text><text transform="translate(283.5,645.6) rotate(-90)">12<tspan dx=".5">/</tspan><tspan dx=".5">26</tspan><tspan dx="1.4">~</tspan><tspan dx="1.4">1</tspan><tspan dx=".5">/</tspan><tspan dx=".5">1</tspan></text><text transform="translate(294.6,645.6) rotate(-90)">1<tspan dx=".5">/</tspan><tspan dx=".5">2</tspan><tspan dx="1.4">~</tspan><tspan dx="1.4">1</tspan><tspan dx=".5">/</tspan><tspan dx=".5">8</tspan></text><text transform="translate(305.7,645.6) rotate(-90)">1<tspan dx=".5">/</tspan><tspan dx=".5">9</tspan><tspan dx="1.4">~</tspan><tspan dx="1.4">1</tspan><tspan dx=".5">/</tspan><tspan dx=".5">15</tspan></text><text transform="translate(316.8,645.6) rotate(-90)">1<tspan dx=".5">/</tspan><tspan dx=".5">16</tspan><tspan dx="1.4">~</tspan><tspan dx="1.4">1</tspan><tspan dx=".5">/</tspan><tspan dx=".5">22</tspan></text><text transform="translate(327.9,645.6) rotate(-90)">1<tspan dx=".5">/</tspan><tspan dx=".5">23</tspan><tspan dx="1.4">~</tspan><tspan dx="1.4">1</tspan><tspan dx=".5">/</tspan><tspan dx=".5">29</tspan></text><text transform="translate(338.9,645.6) rotate(-90)">1<tspan dx=".5">/</tspan><tspan dx=".5">30</tspan><tspan dx="1.4">~</tspan><tspan dx="1.4">2</tspan><tspan dx=".5">/</tspan><tspan dx=".5">5</tspan></text><text transform="translate(350.0,645.6) rotate(-90)">2<tspan dx=".5">/</tspan><tspan dx=".5">6</tspan><tspan dx="1.4">~</tspan><tspan dx="1.4">2</tspan><tspan dx=".5">/</tspan><tspan dx=".5">12</tspan></text><text transform="translate(361.1,645.6) rotate(-90)">2<tspan dx=".5">/</tspan><tspan dx=".5">13</tspan><tspan dx="1.4">~</tspan><tspan dx="1.4">2</tspan><tspan dx=".5">/</tspan><tspan dx=".5">19</tspan></text><text transform="translate(372.2,645.6) rotate(-90)">2<tspan dx=".5">/</tspan><tspan dx=".5">20</tspan><tspan dx="1.4">~</tspan><tspan dx="1.4">2</tspan><tspan dx=".5">/</tspan><tspan dx=".5">26</tspan></text><text transform="translate(383.3,645.6) rotate(-90)">2<tspan dx=".5">/</tspan><tspan dx=".5">27</tspan><tspan dx="1.4">~</tspan><tspan dx="1.4">3</tspan><tspan dx=".5">/</tspan><tspan dx=".5">5</tspan></text><text transform="translate(394.4,645.6) rotate(-90)">3<tspan dx=".5">/</tspan><tspan dx=".5">6</tspan><tspan dx="1.4">~</tspan><tspan dx="1.4">3</tspan><tspan dx=".5">/</tspan><tspan dx=".5">12</tspan></text><text transform="translate(405.5,645.6) rotate(-90)">3<tspan dx=".5">/</tspan><tspan dx=".5">13</tspan><tspan dx="1.4">~</tspan><tspan dx="1.4">3</tspan><tspan dx=".5">/</tspan><tspan dx=".5">19</tspan></text><text transform="translate(416.6,645.6) rotate(-90)">3<tspan dx=".5">/</tspan><tspan dx=".5">20</tspan><tspan dx="1.4">~</tspan><tspan dx="1.4">3</tspan><tspan dx=".5">/</tspan><tspan dx=".5">26</tspan></text><text transform="translate(427.7,645.6) rotate(-90)">3<tspan dx=".5">/</tspan><tspan dx=".5">27</tspan><tspan dx="1.4">~</tspan><tspan dx="1.4">4</tspan><tspan dx=".5">/</tspan><tspan dx=".5">2</tspan></text><text transform="translate(438.8,645.6) rotate(-90)">4<tspan dx=".5">/</tspan><tspan dx=".5">3</tspan><tspan dx="1.4">~</tspan><tspan dx="1.4">4</tspan><tspan dx=".5">/</tspan><tspan dx=".5">9</tspan></text><text transform="translate(449.8,645.6) rotate(-90)">4<tspan dx=".5">/</tspan><tspan dx=".5">10</tspan><tspan dx="1.4">~</tspan><tspan dx="1.4">4</tspan><tspan dx=".5">/</tspan><tspan dx=".5">16</tspan></text><text transform="translate(460.9,645.6) rotate(-90)">4<tspan dx=".5">/</tspan><tspan dx=".5">17</tspan><tspan dx="1.4">~</tspan><tspan dx="1.4">4</tspan><tspan dx=".5">/</tspan><tspan dx=".5">23</tspan></text><text transform="translate(472.0,645.6) rotate(-90)">4<tspan dx=".5">/</tspan><tspan dx=".5">24</tspan><tspan dx="1.4">~</tspan><tspan dx="1.4">4</tspan><tspan dx=".5">/</tspan><tspan dx=".5">30</tspan></text><text transform="translate(483.1,645.6) rotate(-90)">5<tspan dx=".5">/</tspan><tspan dx=".5">1</tspan><tspan dx="1.4">~</tspan><tspan dx="1.4">5</tspan><tspan dx=".5">/</tspan><tspan dx=".5">7</tspan></text><text transform="translate(494.2,645.6) rotate(-90)">5<tspan dx=".5">/</tspan><tspan dx=".5">8</tspan><tspan dx="1.4">~</tspan><tspan dx="1.4">5</tspan><tspan dx=".5">/</tspan><tspan dx=".5">14</tspan></text><text transform="translate(505.3,645.6) rotate(-90)">5<tspan dx=".5">/</tspan><tspan dx=".5">15</tspan><tspan dx="1.4">~</tspan><tspan dx="1.4">5</tspan><tspan dx=".5">/</tspan><tspan dx=".5">21</tspan></text><text transform="translate(516.4,645.6) rotate(-90)">5<tspan dx=".5">/</tspan><tspan dx=".5">22</tspan><tspan dx="1.4">~</tspan><tspan dx="1.4">5</tspan><tspan dx=".5">/</tspan><tspan dx=".5">28</tspan></text><text transform="translate(527.5,645.6) rotate(-90)">5<tspan dx=".5">/</tspan><tspan dx=".5">29</tspan><tspan dx="1.4">~</tspan><tspan dx="1.4">6</tspan><tspan dx=".5">/</tspan><tspan dx=".5">4</tspan></text><text transform="translate(538.6,645.6) rotate(-90)">6<tspan dx=".5">/</tspan><tspan dx=".5">5</tspan><tspan dx="1.4">~</tspan><tspan dx="1.4">6</tspan><tspan dx=".5">/</tspan><tspan dx=".5">11</tspan></text><text transform="translate(549.6,645.6) rotate(-90)">6<tspan dx=".5">/</tspan><tspan dx=".5">12</tspan><tspan dx="1.4">~</tspan><tspan dx="1.4">6</tspan><tspan dx=".5">/</tspan><tspan dx=".5">18</tspan></text><text transform="translate(560.7,645.6) rotate(-90)">6<tspan dx=".5">/</tspan><tspan dx=".5">19</tspan><tspan dx="1.4">~</tspan><tspan dx="1.4">6</tspan><tspan dx=".5">/</tspan><tspan dx=".5">25</tspan></text><text transform="translate(571.8,645.6) rotate(-90)">6<tspan dx=".5">/</tspan><tspan dx=".5">26</tspan><tspan dx="1.4">~</tspan><tspan dx="1.4">7</tspan><tspan dx=".5">/</tspan><tspan dx=".5">2</tspan></text><text transform="translate(582.9,645.6) rotate(-90)">7<tspan dx=".5">/</tspan><tspan dx=".5">3</tspan><tspan dx="1.4">~</tspan><tspan dx="1.4">7</tspan><tspan dx=".5">/</tspan><tspan dx=".5">9</tspan></text><text transform="translate(594.0,645.6) rotate(-90)">7<tspan dx=".5">/</tspan><tspan dx=".5">10</tspan><tspan dx="1.4">~</tspan><tspan dx="1.4">7</tspan><tspan dx=".5">/</tspan><tspan dx=".5">16</tspan></text><text transform="translate(605.1,645.6) rotate(-90)">7<tspan dx=".5">/</tspan><tspan dx=".5">17</tspan><tspan dx="1.4">~</tspan><tspan dx="1.4">7</tspan><tspan dx=".5">/</tspan><tspan dx=".5">23</tspan></text><text transform="translate(616.2,645.6) rotate(-90)">7<tspan dx=".5">/</tspan><tspan dx=".5">24</tspan><tspan dx="1.4">~</tspan><tspan dx="1.4">7</tspan><tspan dx=".5">/</tspan><tspan dx=".5">30</tspan></text><text transform="translate(627.3,645.6) rotate(-90)">7<tspan dx=".5">/</tspan><tspan dx=".5">31</tspan><tspan dx="1.4">~</tspan><tspan dx="1.4">8</tspan><tspan dx=".5">/</tspan><tspan dx=".5">6</tspan></text><text transform="translate(638.4,645.6) rotate(-90)">8<tspan dx=".5">/</tspan><tspan dx=".5">7</tspan><tspan dx="1.4">~</tspan><tspan dx="1.4">8</tspan><tspan dx=".5">/</tspan><tspan dx=".5">13</tspan></text><text transform="translate(649.4,645.6) rotate(-90)">8<tspan dx=".5">/</tspan><tspan dx=".5">14</tspan><tspan dx="1.4">~</tspan><tspan dx="1.4">8</tspan><tspan dx=".5">/</tspan><tspan dx=".5">20</tspan></text><text transform="translate(660.5,645.6) rotate(-90)">8<tspan dx=".5">/</tspan><tspan dx=".5">21</tspan><tspan dx="1.4">~</tspan><tspan dx="1.4">8</tspan><tspan dx=".5">/</tspan><tspan dx=".5">27</tspan></text><text transform="translate(671.6,645.6) rotate(-90)">8<tspan dx=".5">/</tspan><tspan dx=".5">28</tspan><tspan dx="1.4">~</tspan><tspan dx="1.4">9</tspan><tspan dx=".5">/</tspan><tspan dx=".5">3</tspan></text><text transform="translate(682.7,645.6) rotate(-90)">9<tspan dx=".5">/</tspan><tspan dx=".5">4</tspan><tspan dx="1.4">~</tspan><tspan dx="1.4">9</tspan><tspan dx=".5">/</tspan><tspan dx=".5">10</tspan></text><text transform="translate(693.8,645.6) rotate(-90)">9<tspan dx=".5">/</tspan><tspan dx=".5">11</tspan><tspan dx="1.4">~</tspan><tspan dx="1.4">9</tspan><tspan dx=".5">/</tspan><tspan dx=".5">17</tspan></text><text transform="translate(704.9,645.6) rotate(-90)">9<tspan dx=".5">/</tspan><tspan dx=".5">18</tspan><tspan dx="1.4">~</tspan><tspan dx="1.4">9</tspan><tspan dx=".5">/</tspan><tspan dx=".5">24</tspan></text><text transform="translate(716.0,645.6) rotate(-90)">9<tspan dx=".5">/</tspan><tspan dx=".5">25</tspan><tspan dx="1.4">~</tspan><tspan dx="1.4">10</tspan><tspan dx=".5">/</tspan><tspan dx=".5">1</tspan></text><text transform="translate(727.1,645.6) rotate(-90)">10<tspan dx=".5">/</tspan><tspan dx=".5">2</tspan><tspan dx="1.4">~</tspan><tspan dx="1.4">10</tspan><tspan dx=".5">/</tspan><tspan dx=".5">8</tspan></text><text transform="translate(738.2,645.6) rotate(-90)">10<tspan dx=".5">/</tspan><tspan dx=".5">9</tspan><tspan dx="1.4">~</tspan><tspan dx="1.4">10</tspan><tspan dx=".5">/</tspan><tspan dx=".5">15</tspan></text><text transform="translate(749.2,645.6) rotate(-90)">10<tspan dx=".5">/</tspan><tspan dx=".5">16</tspan><tspan dx="1.4">~</tspan><tspan dx="1.4">10</tspan><tspan dx=".5">/</tspan><tspan dx=".5">22</tspan></text><text transform="translate(760.3,645.6) rotate(-90)">10<tspan dx=".5">/</tspan><tspan dx=".5">23</tspan><tspan dx="1.4">~</tspan><tspan dx="1.4">10</tspan><tspan dx=".5">/</tspan><tspan dx=".5">29</tspan></text><text transform="translate(771.4,645.6) rotate(-90)">10<tspan dx=".5">/</tspan><tspan dx=".5">30</tspan><tspan dx="1.4">~</tspan><tspan dx="1.4">11</tspan><tspan dx=".5">/</tspan><tspan dx=".5">5</tspan></text><text transform="translate(782.5,645.6) rotate(-90)">11<tspan dx=".5">/</tspan><tspan dx=".5">6</tspan><tspan dx="1.4">~</tspan><tspan dx="1.4">11</tspan><tspan dx=".5">/</tspan><tspan dx=".5">12</tspan></text><text transform="translate(793.6,645.6) rotate(-90)">11<tspan dx=".5">/</tspan><tspan dx=".5">13</tspan><tspan dx="1.4">~</tspan><tspan dx="1.4">11</tspan><tspan dx=".5">/</tspan><tspan dx=".5">19</tspan></text><text transform="translate(804.7,645.6) rotate(-90)">11<tspan dx=".5">/</tspan><tspan dx=".5">20</tspan><tspan dx="1.4">~</tspan><tspan dx="1.4">11</tspan><tspan dx=".5">/</tspan><tspan dx=".5">26</tspan></text><text transform="translate(815.8,645.6) rotate(-90)">11<tspan dx=".5">/</tspan><tspan dx=".5">27</tspan><tspan dx="1.4">~</tspan><tspan dx="1.4">12</tspan><tspan dx=".5">/</tspan><tspan dx=".5">3</tspan></text><text transform="translate(826.9,645.6) rotate(-90)">12<tspan dx=".5">/</tspan><tspan dx=".5">4</tspan><tspan dx="1.4">~</tspan><tspan dx="1.4">12</tspan><tspan dx=".5">/</tspan><tspan dx=".5">10</tspan></text><text transform="translate(838.0,645.6) rotate(-90)">12<tspan dx=".5">/</tspan><tspan dx=".5">11</tspan><tspan dx="1.4">~</tspan><tspan dx="1.4">12</tspan><tspan dx=".5">/</tspan><tspan dx=".5">17</tspan></text><text transform="translate(849.1,645.6) rotate(-90)">12<tspan dx=".5">/</tspan><tspan dx=".5">18</tspan><tspan dx="1.4">~</tspan><tspan dx="1.4">12</tspan><tspan dx=".5">/</tspan><tspan dx=".5">24</tspan></text><text transform="translate(860.1,645.6) rotate(-90)">12<tspan dx=".5">/</tspan><tspan dx=".5">25</tspan><tspan dx="1.4">~</tspan><tspan dx="1.4">12</tspan><tspan dx=".5">/</tspan><tspan dx=".5">31</tspan></text><text transform="translate(871.2,645.6) rotate(-90)">1<tspan dx=".5">/</tspan><tspan dx=".5">1</tspan><tspan dx="1.4">~</tspan><tspan dx="1.4">1</tspan><tspan dx=".5">/</tspan><tspan dx=".5">7</tspan></text><text transform="translate(882.3,645.6) rotate(-90)">1<tspan dx=".5">/</tspan><tspan dx=".5">8</tspan><tspan dx="1.4">~</tspan><tspan dx="1.4">1</tspan><tspan dx=".5">/</tspan><tspan dx=".5">14</tspan></text><text transform="translate(893.4,645.6) rotate(-90)">1<tspan dx=".5">/</tspan><tspan dx=".5">15</tspan><tspan dx="1.4">~</tspan><tspan dx="1.4">1</tspan><tspan dx=".5">/</tspan><tspan dx=".5">21</tspan></text><text transform="translate(904.5,645.6) rotate(-90)">1<tspan dx=".5">/</tspan><tspan dx=".5">22</tspan><tspan dx="1.4">~</tspan><tspan dx="1.4">1</tspan><tspan dx=".5">/</tspan><tspan dx=".5">28</tspan></text><text transform="translate(915.6,645.6) rotate(-90)">1<tspan dx=".5">/</tspan><tspan dx=".5">29</tspan><tspan dx="1.4">~</tspan><tspan dx="1.4">2</tspan><tspan dx=".5">/</tspan><tspan dx=".5">4</tspan></text><text transform="translate(926.7,645.6) rotate(-90)">2<tspan dx=".5">/</tspan><tspan dx=".5">5</tspan><tspan dx="1.4">~</tspan><tspan dx="1.4">2</tspan><tspan dx=".5">/</tspan><tspan dx=".5">11</tspan></text><text transform="translate(937.8,645.6) rotate(-90)">2<tspan dx=".5">/</tspan><tspan dx=".5">12</tspan><tspan dx="1.4">~</tspan><tspan dx="1.4">2</tspan><tspan dx=".5">/</tspan><tspan dx=".5">18</tspan></text><text transform="translate(948.9,645.6) rotate(-90)">2<tspan dx=".5">/</tspan><tspan dx=".5">19</tspan><tspan dx="1.4">~</tspan><tspan dx="1.4">2</tspan><tspan dx=".5">/</tspan><tspan dx=".5">25</tspan></text><text transform="translate(959.9,645.6) rotate(-90)">2<tspan dx=".5">/</tspan><tspan dx=".5">26</tspan><tspan dx="1.4">~</tspan><tspan dx="1.4">3</tspan><tspan dx=".5">/</tspan><tspan dx=".5">3</tspan></text><text transform="translate(971.0,645.6) rotate(-90)">3<tspan dx=".5">/</tspan><tspan dx=".5">4</tspan><tspan dx="1.4">~</tspan><tspan dx="1.4">3</tspan><tspan dx=".5">/</tspan><tspan dx=".5">10</tspan></text><text transform="translate(982.1,645.6) rotate(-90)">3<tspan dx=".5">/</tspan><tspan dx=".5">11</tspan><tspan dx="1.4">~</tspan><tspan dx="1.4">3</tspan><tspan dx=".5">/</tspan><tspan dx=".5">17</tspan></text><text transform="translate(993.2,645.6) rotate(-90)">3<tspan dx=".5">/</tspan><tspan dx=".5">18</tspan><tspan dx="1.4">~</tspan><tspan dx="1.4">3</tspan><tspan dx=".5">/</tspan><tspan dx=".5">24</tspan></text><text transform="translate(1004.3,645.6) rotate(-90)">3<tspan dx=".5">/</tspan><tspan dx=".5">25</tspan><tspan dx="1.4">~</tspan><tspan dx="1.4">3</tspan><tspan dx=".5">/</tspan><tspan dx=".5">31</tspan></text><text transform="translate(1015.4,645.6) rotate(-90)">4<tspan dx=".5">/</tspan><tspan dx=".5">1</tspan><tspan dx="1.4">~</tspan><tspan dx="1.4">4</tspan><tspan dx=".5">/</tspan><tspan dx=".5">7</tspan></text><text transform="translate(1026.5,645.6) rotate(-90)">4<tspan dx=".5">/</tspan><tspan dx=".5">8</tspan><tspan dx="1.4">~</tspan><tspan dx="1.4">4</tspan><tspan dx=".5">/</tspan><tspan dx=".5">14</tspan></text><text transform="translate(1037.6,645.6) rotate(-90)">4<tspan dx=".5">/</tspan><tspan dx=".5">15</tspan><tspan dx="1.4">~</tspan><tspan dx="1.4">4</tspan><tspan dx=".5">/</tspan><tspan dx=".5">21</tspan></text><text transform="translate(1048.7,645.6) rotate(-90)">4<tspan dx=".5">/</tspan><tspan dx=".5">22</tspan><tspan dx="1.4">~</tspan><tspan dx="1.4">4</tspan><tspan dx=".5">/</tspan><tspan dx=".5">28</tspan></text><text transform="translate(1059.7,645.6) rotate(-90)">4<tspan dx=".5">/</tspan><tspan dx=".5">29</tspan><tspan dx="1.4">~</tspan><tspan dx="1.4">5</tspan><tspan dx=".5">/</tspan><tspan dx=".5">5</tspan></text><text transform="translate(1070.8,645.6) rotate(-90)">5<tspan dx=".5">/</tspan><tspan dx=".5">6</tspan><tspan dx="1.4">~</tspan><tspan dx="1.4">5</tspan><tspan dx=".5">/</tspan><tspan dx=".5">12</tspan></text><text transform="translate(1081.9,645.6) rotate(-90)">5<tspan dx=".5">/</tspan><tspan dx=".5">13</tspan><tspan dx="1.4">~</tspan><tspan dx="1.4">5</tspan><tspan dx=".5">/</tspan><tspan dx=".5">19</tspan></text><text transform="translate(1093.0,645.6) rotate(-90)">5<tspan dx=".5">/</tspan><tspan dx=".5">20</tspan><tspan dx="1.4">~</tspan><tspan dx="1.4">5</tspan><tspan dx=".5">/</tspan><tspan dx=".5">26</tspan></text><text transform="translate(1104.1,645.6) rotate(-90)">5<tspan dx=".5">/</tspan><tspan dx=".5">27</tspan><tspan dx="1.4">~</tspan><tspan dx="1.4">6</tspan><tspan dx=".5">/</tspan><tspan dx=".5">2</tspan></text><text transform="translate(1115.2,645.6) rotate(-90)">6<tspan dx=".5">/</tspan><tspan dx=".5">3</tspan><tspan dx="1.4">~</tspan><tspan dx="1.4">6</tspan><tspan dx=".5">/</tspan><tspan dx=".5">9</tspan></text><text transform="translate(1126.3,645.6) rotate(-90)">6<tspan dx=".5">/</tspan><tspan dx=".5">10</tspan><tspan dx="1.4">~</tspan><tspan dx="1.4">6</tspan><tspan dx=".5">/</tspan><tspan dx=".5">16</tspan></text><text transform="translate(1137.4,645.6) rotate(-90)">6<tspan dx=".5">/</tspan><tspan dx=".5">17</tspan><tspan dx="1.4">~</tspan><tspan dx="1.4">6</tspan><tspan dx=".5">/</tspan><tspan dx=".5">23</tspan></text><text transform="translate(1148.5,645.6) rotate(-90)">6<tspan dx=".5">/</tspan><tspan dx=".5">24</tspan><tspan dx="1.4">~</tspan><tspan dx="1.4">6</tspan><tspan dx=".5">/</tspan><tspan dx=".5">30</tspan></text><text transform="translate(1159.5,645.6) rotate(-90)">7<tspan dx=".5">/</tspan><tspan dx=".5">1</tspan><tspan dx="1.4">~</tspan><tspan dx="1.4">7</tspan><tspan dx=".5">/</tspan><tspan dx=".5">7</tspan></text><text transform="translate(1170.6,645.6) rotate(-90)">7<tspan dx=".5">/</tspan><tspan dx=".5">8</tspan><tspan dx="1.4">~</tspan><tspan dx="1.4">7</tspan><tspan dx=".5">/</tspan><tspan dx=".5">14</tspan></text><text transform="translate(1181.7,645.6) rotate(-90)">7<tspan dx=".5">/</tspan><tspan dx=".5">15</tspan><tspan dx="1.4">~</tspan><tspan dx="1.4">7</tspan><tspan dx=".5">/</tspan><tspan dx=".5">21</tspan></text><text transform="translate(1192.8,645.6) rotate(-90)">7<tspan dx=".5">/</tspan><tspan dx=".5">22</tspan><tspan dx="1.4">~</tspan><tspan dx="1.4">7</tspan><tspan dx=".5">/</tspan><tspan dx=".5">28</tspan></text><text transform="translate(1203.9,645.6) rotate(-90)">7<tspan dx=".5">/</tspan><tspan dx=".5">29</tspan><tspan dx="1.4">~</tspan><tspan dx="1.4">8</tspan><tspan dx=".5">/</tspan><tspan dx=".5">4</tspan></text><text transform="translate(1215.0,645.6) rotate(-90)">8<tspan dx=".5">/</tspan><tspan dx=".5">5</tspan><tspan dx="1.4">~</tspan><tspan dx="1.4">8</tspan><tspan dx=".5">/</tspan><tspan dx=".5">11</tspan></text><text transform="translate(1226.1,645.6) rotate(-90)">8<tspan dx=".5">/</tspan><tspan dx=".5">12</tspan><tspan dx="1.4">~</tspan><tspan dx="1.4">8</tspan><tspan dx=".5">/</tspan><tspan dx=".5">18</tspan></text><text transform="translate(1237.2,645.6) rotate(-90)">8<tspan dx=".5">/</tspan><tspan dx=".5">19</tspan><tspan dx="1.4">~</tspan><tspan dx="1.4">8</tspan><tspan dx=".5">/</tspan><tspan dx=".5">25</tspan></text><text transform="translate(1248.3,645.6) rotate(-90)">8<tspan dx=".5">/</tspan><tspan dx=".5">26</tspan><tspan dx="1.4">~</tspan><tspan dx="1.4">9</tspan><tspan dx=".5">/</tspan><tspan dx=".5">1</tspan></text><text transform="translate(1259.4,645.6) rotate(-90)">9<tspan dx=".5">/</tspan><tspan dx=".5">2</tspan><tspan dx="1.4">~</tspan><tspan dx="1.4">9</tspan><tspan dx=".5">/</tspan><tspan dx=".5">8</tspan></text><text transform="translate(1270.4,645.6) rotate(-90)">9<tspan dx=".5">/</tspan><tspan dx=".5">9</tspan><tspan dx="1.4">~</tspan><tspan dx="1.4">9</tspan><tspan dx=".5">/</tspan><tspan dx=".5">15</tspan></text><text transform="translate(1281.5,645.6) rotate(-90)">9<tspan dx=".5">/</tspan><tspan dx=".5">16</tspan><tspan dx="1.4">~</tspan><tspan dx="1.4">9</tspan><tspan dx=".5">/</tspan><tspan dx=".5">22</tspan></text><text transform="translate(1292.6,645.6) rotate(-90)">9<tspan dx=".5">/</tspan><tspan dx=".5">23</tspan><tspan dx="1.4">~</tspan><tspan dx="1.4">9</tspan><tspan dx=".5">/</tspan><tspan dx=".5">29</tspan></text><text transform="translate(1303.7,645.6) rotate(-90)">9<tspan dx=".5">/</tspan><tspan dx=".5">30</tspan><tspan dx="1.4">~</tspan><tspan dx="1.4">10</tspan><tspan dx=".5">/</tspan><tspan dx=".5">6</tspan></text><text transform="translate(1314.8,645.6) rotate(-90)">10<tspan dx=".5">/</tspan><tspan dx=".5">7</tspan><tspan dx="1.4">~</tspan><tspan dx="1.4">10</tspan><tspan dx=".5">/</tspan><tspan dx=".5">13</tspan></text><text transform="translate(1325.9,645.6) rotate(-90)">10<tspan dx=".5">/</tspan><tspan dx=".5">14</tspan><tspan dx="1.4">~</tspan><tspan dx="1.4">10</tspan><tspan dx=".5">/</tspan><tspan dx=".5">20</tspan></text><text transform="translate(1337.0,645.6) rotate(-90)">10<tspan dx=".5">/</tspan><tspan dx=".5">21</tspan><tspan dx="1.4">~</tspan><tspan dx="1.4">10</tspan><tspan dx=".5">/</tspan><tspan dx=".5">27</tspan></text><text transform="translate(1348.1,645.6) rotate(-90)">10<tspan dx=".5">/</tspan><tspan dx=".5">28</tspan><tspan dx="1.4">~</tspan><tspan dx="1.4">11</tspan><tspan dx=".5">/</tspan><tspan dx=".5">3</tspan></text><text transform="translate(1359.2,645.6) rotate(-90)">11<tspan dx=".5">/</tspan><tspan dx=".5">4</tspan><tspan dx="1.4">~</tspan><tspan dx="1.4">11</tspan><tspan dx=".5">/</tspan><tspan dx=".5">10</tspan></text><text transform="translate(1370.2,645.6) rotate(-90)">11<tspan dx=".5">/</tspan><tspan dx=".5">11</tspan><tspan dx="1.4">~</tspan><tspan dx="1.4">11</tspan><tspan dx=".5">/</tspan><tspan dx=".5">17</tspan></text><text transform="translate(1381.3,645.6) rotate(-90)">11<tspan dx=".5">/</tspan><tspan dx=".5">18</tspan><tspan dx="1.4">~</tspan><tspan dx="1.4">11</tspan><tspan dx=".5">/</tspan><tspan dx=".5">24</tspan></text><text transform="translate(1392.4,645.6) rotate(-90)">11<tspan dx=".5">/</tspan><tspan dx=".5">25</tspan><tspan dx="1.4">~</tspan><tspan dx="1.4">12</tspan><tspan dx=".5">/</tspan><tspan dx=".5">1</tspan></text><text transform="translate(1403.5,645.6) rotate(-90)">12<tspan dx=".5">/</tspan><tspan dx=".5">2</tspan><tspan dx="1.4">~</tspan><tspan dx="1.4">12</tspan><tspan dx=".5">/</tspan><tspan dx=".5">8</tspan></text><text transform="translate(1414.6,645.6) rotate(-90)">12<tspan dx=".5">/</tspan><tspan dx=".5">9</tspan><tspan dx="1.4">~</tspan><tspan dx="1.4">12</tspan><tspan dx=".5">/</tspan><tspan dx=".5">15</tspan></text><text transform="translate(1425.7,645.6) rotate(-90)">12<tspan dx=".5">/</tspan><tspan dx=".5">16</tspan><tspan dx="1.4">~</tspan><tspan dx="1.4">12</tspan><tspan dx=".5">/</tspan><tspan dx=".5">22</tspan></text><text transform="translate(1436.8,645.6) rotate(-90)">12<tspan dx=".5">/</tspan><tspan dx=".5">23</tspan><tspan dx="1.4">~</tspan><tspan dx="1.4">12</tspan><tspan dx=".5">/</tspan><tspan dx=".5">29</tspan></text><text transform="translate(1447.9,645.6) rotate(-90)">12<tspan dx=".5">/</tspan><tspan dx=".5">30</tspan><tspan dx="1.4">~</tspan><tspan dx="1.4">1</tspan><tspan dx=".5">/</tspan><tspan dx=".5">5</tspan></text><text transform="translate(1459.0,645.6) rotate(-90)">1<tspan dx=".5">/</tspan><tspan dx=".5">6</tspan><tspan dx="1.4">~</tspan><tspan dx="1.4">1</tspan><tspan dx=".5">/</tspan><tspan dx=".5">12</tspan></text><text transform="translate(1470.0,645.6) rotate(-90)">1<tspan dx=".5">/</tspan><tspan dx=".5">13</tspan><tspan dx="1.4">~</tspan><tspan dx="1.4">1</tspan><tspan dx=".5">/</tspan><tspan dx=".5">19</tspan></text><text transform="translate(1481.1,645.6) rotate(-90)">1<tspan dx=".5">/</tspan><tspan dx=".5">20</tspan><tspan dx="1.4">~</tspan><tspan dx="1.4">1</tspan><tspan dx=".5">/</tspan><tspan dx=".5">26</tspan></text><text transform="translate(1492.2,645.6) rotate(-90)">1<tspan dx=".5">/</tspan><tspan dx=".5">27</tspan><tspan dx="1.4">~</tspan><tspan dx="1.4">2</tspan><tspan dx=".5">/</tspan><tspan dx=".5">2</tspan></text><text transform="translate(1503.3,645.6) rotate(-90)">2<tspan dx=".5">/</tspan><tspan dx=".5">3</tspan><tspan dx="1.4">~</tspan><tspan dx="1.4">2</tspan><tspan dx=".5">/</tspan><tspan dx=".5">9</tspan></text><text transform="translate(1514.4,645.6) rotate(-90)">2<tspan dx=".5">/</tspan><tspan dx=".5">10</tspan><tspan dx="1.4">~</tspan><tspan dx="1.4">2</tspan><tspan dx=".5">/</tspan><tspan dx=".5">16</tspan></text><text transform="translate(1525.5,645.6) rotate(-90)">2<tspan dx=".5">/</tspan><tspan dx=".5">17</tspan><tspan dx="1.4">~</tspan><tspan dx="1.4">2</tspan><tspan dx=".5">/</tspan><tspan dx=".5">23</tspan></text><text transform="translate(1536.6,645.6) rotate(-90)">2<tspan dx=".5">/</tspan><tspan dx=".5">24</tspan><tspan dx="1.4">~</tspan><tspan dx="1.4">3</tspan><tspan dx=".5">/</tspan><tspan dx=".5">2</tspan></text><text transform="translate(1547.7,645.6) rotate(-90)">3<tspan dx=".5">/</tspan><tspan dx=".5">3</tspan><tspan dx="1.4">~</tspan><tspan dx="1.4">3</tspan><tspan dx=".5">/</tspan><tspan dx=".5">9</tspan></text><text transform="translate(1558.8,645.6) rotate(-90)">3<tspan dx=".5">/</tspan><tspan dx=".5">10</tspan><tspan dx="1.4">~</tspan><tspan dx="1.4">3</tspan><tspan dx=".5">/</tspan><tspan dx=".5">16</tspan></text><text transform="translate(1569.8,645.6) rotate(-90)">3<tspan dx=".5">/</tspan><tspan dx=".5">17</tspan><tspan dx="1.4">~</tspan><tspan dx="1.4">3</tspan><tspan dx=".5">/</tspan><tspan dx=".5">23</tspan></text><text transform="translate(1580.9,645.6) rotate(-90)">3<tspan dx=".5">/</tspan><tspan dx=".5">24</tspan><tspan dx="1.4">~</tspan><tspan dx="1.4">3</tspan><tspan dx=".5">/</tspan><tspan dx=".5">30</tspan></text><text transform="translate(1592.0,645.6) rotate(-90)">3<tspan dx=".5">/</tspan><tspan dx=".5">31</tspan><tspan dx="1.4">~</tspan><tspan dx="1.4">4</tspan><tspan dx=".5">/</tspan><tspan dx=".5">6</tspan></text><text transform="translate(1603.1,645.6) rotate(-90)">4<tspan dx=".5">/</tspan><tspan dx=".5">7</tspan><tspan dx="1.4">~</tspan><tspan dx="1.4">4</tspan><tspan dx=".5">/</tspan><tspan dx=".5">13</tspan></text><text transform="translate(1614.2,645.6) rotate(-90)">4<tspan dx=".5">/</tspan><tspan dx=".5">14</tspan><tspan dx="1.4">~</tspan><tspan dx="1.4">4</tspan><tspan dx=".5">/</tspan><tspan dx=".5">20</tspan></text><text transform="translate(1625.3,645.6) rotate(-90)">4<tspan dx=".5">/</tspan><tspan dx=".5">21</tspan><tspan dx="1.4">~</tspan><tspan dx="1.4">4</tspan><tspan dx=".5">/</tspan><tspan dx=".5">27</tspan></text><text transform="translate(1636.4,645.6) rotate(-90)">4<tspan dx=".5">/</tspan><tspan dx=".5">28</tspan><tspan dx="1.4">~</tspan><tspan dx="1.4">5</tspan><tspan dx=".5">/</tspan><tspan dx=".5">4</tspan></text><text transform="translate(1647.5,645.6) rotate(-90)">5<tspan dx=".5">/</tspan><tspan dx=".5">5</tspan><tspan dx="1.4">~</tspan><tspan dx="1.4">5</tspan><tspan dx=".5">/</tspan><tspan dx=".5">11</tspan></text><text transform="translate(1658.6,645.6) rotate(-90)">5<tspan dx=".5">/</tspan><tspan dx=".5">12</tspan><tspan dx="1.4">~</tspan><tspan dx="1.4">5</tspan><tspan dx=".5">/</tspan><tspan dx=".5">18</tspan></text><text transform="translate(1669.7,645.6) rotate(-90)">5<tspan dx=".5">/</tspan><tspan dx=".5">19</tspan><tspan dx="1.4">~</tspan><tspan dx="1.4">5</tspan><tspan dx=".5">/</tspan><tspan dx=".5">25</tspan></text><text transform="translate(1680.7,645.6) rotate(-90)">5<tspan dx=".5">/</tspan><tspan dx=".5">26</tspan><tspan dx="1.4">~</tspan><tspan dx="1.4">6</tspan><tspan dx=".5">/</tspan><tspan dx=".5">1</tspan></text><text transform="translate(1691.8,645.6) rotate(-90)">6<tspan dx=".5">/</tspan><tspan dx=".5">2</tspan><tspan dx="1.4">~</tspan><tspan dx="1.4">6</tspan><tspan dx=".5">/</tspan><tspan dx=".5">8</tspan></text><text transform="translate(1702.9,645.6) rotate(-90)">6<tspan dx=".5">/</tspan><tspan dx=".5">9</tspan><tspan dx="1.4">~</tspan><tspan dx="1.4">6</tspan><tspan dx=".5">/</tspan><tspan dx=".5">15</tspan></text><text transform="translate(1714.0,645.6) rotate(-90)">6<tspan dx=".5">/</tspan><tspan dx=".5">16</tspan><tspan dx="1.4">~</tspan><tspan dx="1.4">6</tspan><tspan dx=".5">/</tspan><tspan dx=".5">22</tspan></text><text transform="translate(1725.1,645.6) rotate(-90)">6<tspan dx=".5">/</tspan><tspan dx=".5">23</tspan><tspan dx="1.4">~</tspan><tspan dx="1.4">6</tspan><tspan dx=".5">/</tspan><tspan dx=".5">29</tspan></text><text transform="translate(1736.2,645.6) rotate(-90)">6<tspan dx=".5">/</tspan><tspan dx=".5">30</tspan><tspan dx="1.4">~</tspan><tspan dx="1.4">7</tspan><tspan dx=".5">/</tspan><tspan dx=".5">6</tspan></text><text transform="translate(1747.3,645.6) rotate(-90)">7<tspan dx=".5">/</tspan><tspan dx=".5">7</tspan><tspan dx="1.4">~</tspan><tspan dx="1.4">7</tspan><tspan dx=".5">/</tspan><tspan dx=".5">13</tspan></text><text transform="translate(1758.4,645.6) rotate(-90)">7<tspan dx=".5">/</tspan><tspan dx=".5">14</tspan><tspan dx="1.4">~</tspan><tspan dx="1.4">7</tspan><tspan dx=".5">/</tspan><tspan dx=".5">20</tspan></text><text transform="translate(1769.5,645.6) rotate(-90)">7<tspan dx=".5">/</tspan><tspan dx=".5">21</tspan><tspan dx="1.4">~</tspan><tspan dx="1.4">7</tspan><tspan dx=".5">/</tspan><tspan dx=".5">27</tspan></text><text transform="translate(1780.5,645.6) rotate(-90)">7<tspan dx=".5">/</tspan><tspan dx=".5">28</tspan><tspan dx="1.4">~</tspan><tspan dx="1.4">8</tspan><tspan dx=".5">/</tspan><tspan dx=".5">3</tspan></text><text transform="translate(1791.6,645.6) rotate(-90)">8<tspan dx=".5">/</tspan><tspan dx=".5">4</tspan><tspan dx="1.4">~</tspan><tspan dx="1.4">8</tspan><tspan dx=".5">/</tspan><tspan dx=".5">10</tspan></text><text transform="translate(1802.7,645.6) rotate(-90)">8<tspan dx=".5">/</tspan><tspan dx=".5">11</tspan><tspan dx="1.4">~</tspan><tspan dx="1.4">8</tspan><tspan dx=".5">/</tspan><tspan dx=".5">17</tspan></text><text transform="translate(1813.8,645.6) rotate(-90)">8<tspan dx=".5">/</tspan><tspan dx=".5">18</tspan><tspan dx="1.4">~</tspan><tspan dx="1.4">8</tspan><tspan dx=".5">/</tspan><tspan dx=".5">24</tspan></text><text transform="translate(1824.9,645.6) rotate(-90)">8<tspan dx=".5">/</tspan><tspan dx=".5">25</tspan><tspan dx="1.4">~</tspan><tspan dx="1.4">8</tspan><tspan dx=".5">/</tspan><tspan dx=".5">31</tspan></text><text transform="translate(1836.0,645.6) rotate(-90)">9<tspan dx=".5">/</tspan><tspan dx=".5">1</tspan><tspan dx="1.4">~</tspan><tspan dx="1.4">9</tspan><tspan dx=".5">/</tspan><tspan dx=".5">7</tspan></text><text transform="translate(1847.1,645.6) rotate(-90)">9<tspan dx=".5">/</tspan><tspan dx=".5">8</tspan><tspan dx="1.4">~</tspan><tspan dx="1.4">9</tspan><tspan dx=".5">/</tspan><tspan dx=".5">14</tspan></text><text transform="translate(1858.2,645.6) rotate(-90)">9<tspan dx=".5">/</tspan><tspan dx=".5">15</tspan><tspan dx="1.4">~</tspan><tspan dx="1.4">9</tspan><tspan dx=".5">/</tspan><tspan dx=".5">21</tspan></text><text transform="translate(1869.3,645.6) rotate(-90)">9<tspan dx=".5">/</tspan><tspan dx=".5">22</tspan><tspan dx="1.4">~</tspan><tspan dx="1.4">9</tspan><tspan dx=".5">/</tspan><tspan dx=".5">28</tspan></text></g>
<g font-size="7.3" fill="#595959" text-anchor="middle"><text x="209.6" y="704">2022</text><text x="575.6" y="704">2023</text><text x="1152.2" y="704">2024</text><text x="1656.8" y="704">2025</text></g>
<text font-size="13.3" fill="#595959" text-anchor="middle" style="font-family:'Liberation Sans','Noto Sans CJK JP',sans-serif"><tspan x="56.6" y="176.6">定</tspan><tspan x="56.6" y="195.8">点</tspan><tspan x="56.6" y="215">あ</tspan><tspan x="56.6" y="234.5">た</tspan><tspan x="56.6" y="254">り</tspan><tspan x="56.6" y="273">の</tspan><tspan x="56.6" y="291.2">報</tspan><tspan x="56.6" y="310.2">告</tspan><tspan x="56.6" y="330.2">数</tspan><tspan x="56.6" y="345.2">︵</tspan><tspan x="56.6" y="363.2">報</tspan><tspan x="56.6" y="382.9">告</tspan><tspan x="56.6" y="402.5">数</tspan><tspan x="56.6" y="422.3">／</tspan><tspan x="56.6" y="441">定</tspan><tspan x="56.6" y="461.5">点</tspan><tspan x="56.6" y="480.5">数</tspan><tspan x="56.6" y="495.2">︶</tspan></text>
<rect x="164" y="41" width="895.8" height="35" fill="#fff"/>
<rect x="182" y="53" width="26" height="12" fill="#F4B183"/>
<text x="211" y="66.5" font-size="21" fill="#595959" style="font-family:'Liberation Sans','Noto Sans CJK JP',sans-serif">山口県</text>
<path d="M291.9 58.5h26.4" stroke="#A5A5A5" stroke-width="2.00" fill="none"/>
<text x="319.5" y="66.5" font-size="21" fill="#595959" style="font-family:'Liberation Sans','Noto Sans CJK JP',sans-serif">下関</text>
<path d="M380.0 58.5h26.4" stroke="#0070C0" stroke-width="1.25" fill="none"/>
<text x="407.5" y="66.5" font-size="21" fill="#595959" style="font-family:'Liberation Sans','Noto Sans CJK JP',sans-serif">岩国</text>
<path d="M468.1 58.5h26.4" stroke="#00B0F0" stroke-width="1.25" fill="none"/>
<text x="496" y="66.5" font-size="21" fill="#595959" style="font-family:'Liberation Sans','Noto Sans CJK JP',sans-serif">柳井</text>
<path d="M556.3 58.5h26.4" stroke="#00B050" stroke-width="1.25" fill="none"/>
<text x="584.5" y="66.5" font-size="21" fill="#595959" style="font-family:'Liberation Sans','Noto Sans CJK JP',sans-serif">周南</text>
<path d="M644.4 58.5h26.4" stroke="#C00000" stroke-width="1.25" fill="none"/>
<text x="672.5" y="66.5" font-size="21" fill="#595959" style="font-family:'Liberation Sans','Noto Sans CJK JP',sans-serif">防府</text>
<path d="M732.6 58.5h26.4" stroke="#FFC000" stroke-width="1.25" fill="none"/>
<text x="761.5" y="66.5" font-size="21" fill="#595959" style="font-family:'Liberation Sans','Noto Sans CJK JP',sans-serif">山口</text>
<path d="M820.7 58.5h26.4" stroke="#FFFF00" stroke-width="1.25" fill="none"/>
<text x="849.5" y="66.5" font-size="21" fill="#595959" style="font-family:'Liberation Sans','Noto Sans CJK JP',sans-serif">宇部</text>
<path d="M908.8 58.5h26.4" stroke="#7030A0" stroke-width="1.25" fill="none"/>
<text x="937.5" y="66.5" font-size="21" fill="#595959" style="font-family:'Liberation Sans','Noto Sans CJK JP',sans-serif">長門</text>
<path d="M997.0 58.5h26.4" stroke="#C55A11" stroke-width="1.25" fill="none"/>
<text x="1025.5" y="66.5" font-size="21" fill="#595959" style="font-family:'Liberation Sans','Noto Sans CJK JP',sans-serif">萩</text>
<rect x="370" y="90" width="671" height="64.8" fill="#fff"/>
<text x="381" y="109.8" font-size="13.8" fill="#000" textLength="453" lengthAdjust="spacing" style="font-family:'Liberation Sans','Noto Sans CJK JP',sans-serif">※ 2023年5月7日までのグラフは、全数報告データをもとに作成しています。</text>
<text x="381" y="129" font-size="13.8" fill="#000" textLength="528.5" lengthAdjust="spacing" style="font-family:'Liberation Sans','Noto Sans CJK JP',sans-serif">※ 5類移行前後で、医療体制や受診行動変化が報告数に影響しているとされています。</text>
<path d="M497.3 194.8H595.5V176.7L622.5 213.5L595.5 250.4V231.8H497.3Z" fill="#5B9BD5" stroke="#497DBA" stroke-width="0.8" stroke-linejoin="miter"/>
<text x="507" y="220" font-size="18.4" font-weight="bold" fill="#fff" style="font-family:'Liberation Sans','Noto Sans CJK JP',sans-serif">5類移行</text>
</svg></body></html>
